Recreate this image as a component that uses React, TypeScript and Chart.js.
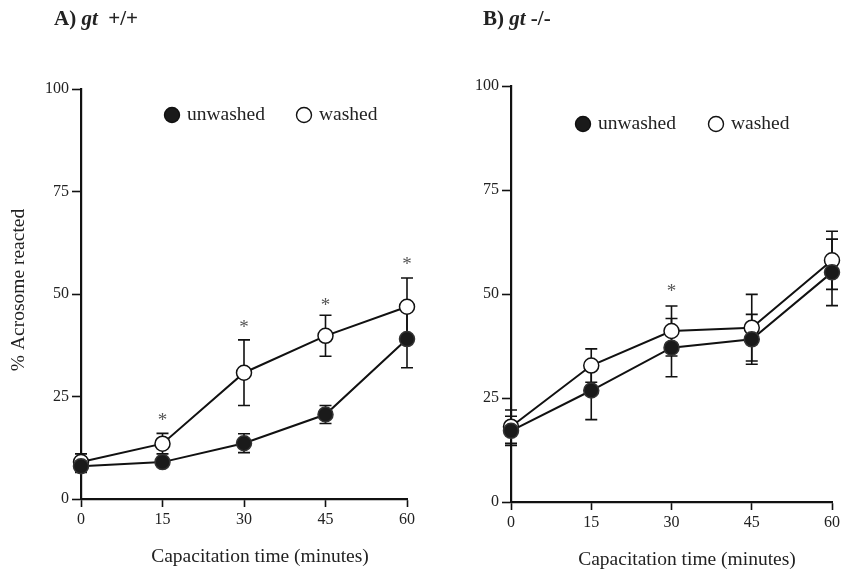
import React, { useEffect, useRef } from "react";
import { Chart, registerables } from "chart.js";

Chart.register(...registerables);

// ---------- DATA ----------
const timePoints = [0, 15, 30, 45, 60];
const xTicks = [0, 15, 30, 45, 60];
const yTicks = [0, 25, 50, 75, 100];

const seriesNames = ["unwashed", "washed"];

const panelAUnwashed = [8, 9, 13.6, 20.6, 39];
const panelAUnwashedErr = [1.5, 1, 2.3, 2.2, 7];
const panelAWashed = [9, 13.5, 30.8, 39.8, 46.9];
const panelAWashedErr = [2, 2.5, 8, 5, 7];
const panelAStarTimes = [15, 30, 45, 60];
const panelAStarLevels = [20.3, 43, 48.4, 58.3];

const panelBUnwashed = [17.1, 26.8, 37.1, 39.1, 55.2];
const panelBUnwashedErr = [3.5, 7, 7, 6, 8];
const panelBWashed = [18.1, 32.8, 41.1, 41.9, 58.1];
const panelBWashedErr = [4, 4, 6, 8, 7];
const panelBStarTimes = [30];
const panelBStarLevels = [51.8];

const xAxisTitle = "Capacitation time (minutes)";
const yAxisTitle = "% Acrosome reacted";

const FONT = "'Liberation Serif', 'Times New Roman', serif";

type PanelCfg = {
  unwashed: number[];
  unwashedErr: number[];
  washed: number[];
  washedErr: number[];
  starTimes: number[];
  starLevels: number[];
  area: { left: number; top: number; right: number; bottom: number };
  legend: { dx: number; dy: number; gap: number };
  xTitle: { x: number; y: number };
  showYTitle: boolean;
};

const W = 843;
const H = 571;
const Y_W = 40;
const X_H = 40;

function makeChart(canvas: HTMLCanvasElement, cfg: PanelCfg) {
  const errPlugin = {
    id: "errbars",
    beforeDatasetsDraw(chart: any) {
      const ctx = chart.ctx;
      const xs = chart.scales.x;
      const ys = chart.scales.y;
      const errs = [cfg.unwashedErr, cfg.washedErr];
      const vals = [cfg.unwashed, cfg.washed];
      ctx.save();
      ctx.strokeStyle = "#111";
      ctx.lineWidth = 1.6;
      for (let d = 0; d < 2; d++) {
        for (let i = 0; i < timePoints.length; i++) {
          const x = xs.getPixelForValue(timePoints[i]);
          const yT = ys.getPixelForValue(vals[d][i] + errs[d][i]);
          const yB = ys.getPixelForValue(vals[d][i] - errs[d][i]);
          ctx.beginPath();
          ctx.moveTo(x, yT);
          ctx.lineTo(x, yB);
          ctx.moveTo(x - 6, yT);
          ctx.lineTo(x + 6, yT);
          ctx.moveTo(x - 6, yB);
          ctx.lineTo(x + 6, yB);
          ctx.stroke();
        }
      }
      ctx.restore();
    },
    afterDraw(chart: any) {
      const ctx = chart.ctx;
      const xs = chart.scales.x;
      const ys = chart.scales.y;
      const ca = chart.chartArea;
      ctx.save();
      // asterisks
      ctx.fillStyle = "#555";
      ctx.font = `19px ${FONT}`;
      ctx.textAlign = "center";
      ctx.textBaseline = "alphabetic";
      for (let i = 0; i < cfg.starTimes.length; i++) {
        const x = xs.getPixelForValue(cfg.starTimes[i]);
        const y = ys.getPixelForValue(cfg.starLevels[i]);
        ctx.fillText("*", x, y + 10);
      }
      // legend
      const lx = ca.left + cfg.legend.dx;
      const ly = ca.top + cfg.legend.dy;
      ctx.font = `19.5px ${FONT}`;
      ctx.textAlign = "left";
      ctx.textBaseline = "middle";
      ctx.lineWidth = 1.4;
      ctx.strokeStyle = "#111";
      ctx.beginPath();
      ctx.arc(lx, ly, 7.5, 0, Math.PI * 2);
      ctx.fillStyle = "#1a1a1a";
      ctx.fill();
      ctx.stroke();
      ctx.fillStyle = "#222";
      ctx.fillText(seriesNames[0], lx + 15, ly);
      const lx2 = lx + cfg.legend.gap;
      ctx.beginPath();
      ctx.arc(lx2, ly, 7.5, 0, Math.PI * 2);
      ctx.fillStyle = "#fff";
      ctx.fill();
      ctx.stroke();
      ctx.fillStyle = "#222";
      ctx.fillText(seriesNames[1], lx2 + 15, ly);
      // x title
      ctx.textAlign = "center";
      ctx.font = `19.5px ${FONT}`;
      ctx.fillText(xAxisTitle, cfg.xTitle.x, cfg.xTitle.y);
      // y title
      if (cfg.showYTitle) {
        ctx.translate(19, (ca.top + ca.bottom) / 2 - 4);
        ctx.rotate(-Math.PI / 2);
        ctx.fillText(yAxisTitle, 0, 0);
      }
      ctx.restore();
    },
  };

  const a = cfg.area;
  return new Chart(canvas, {
    type: "line",
    data: {
      labels: timePoints,
      datasets: [
        {
          label: seriesNames[0],
          data: timePoints.map((t, i) => ({ x: t, y: cfg.unwashed[i] })),
          borderColor: "#111",
          borderWidth: 2,
          backgroundColor: "#1a1a1a",
          pointBackgroundColor: "#1a1a1a",
          pointBorderColor: "#333",
          pointBorderWidth: 1.5,
          pointRadius: 7.5,
          tension: 0,
          clip: false,
        },
        {
          label: seriesNames[1],
          data: timePoints.map((t, i) => ({ x: t, y: cfg.washed[i] })),
          borderColor: "#111",
          borderWidth: 2,
          backgroundColor: "#fff",
          pointBackgroundColor: "#fff",
          pointBorderColor: "#111",
          pointBorderWidth: 1.5,
          pointRadius: 7.5,
          tension: 0,
          clip: false,
        },
      ],
    },
    options: {
      animation: false,
      responsive: false,
      maintainAspectRatio: false,
      layout: {
        padding: {
          left: a.left - Y_W,
          top: a.top,
          right: W - a.right,
          bottom: H - a.bottom - X_H,
        },
      },
      plugins: {
        legend: { display: false },
        tooltip: { enabled: false },
        title: { display: false },
      },
      scales: {
        x: {
          type: "linear",
          min: 0,
          max: 60,
          afterFit(scale: any) {
            scale.height = X_H;
          },
          afterBuildTicks(scale: any) {
            scale.ticks = xTicks.map((v) => ({ value: v }));
          },
          grid: {
            drawOnChartArea: false,
            drawTicks: true,
            tickLength: 8,
            tickWidth: 1.6,
            tickColor: "#111",
          },
          border: { display: true, color: "#111", width: 2.2 },
          ticks: {
            font: { family: FONT, size: 16 },
            color: "#222",
            padding: 3,
            maxRotation: 0,
          },
        },
        y: {
          type: "linear",
          min: 0,
          max: 100,
          afterFit(scale: any) {
            scale.width = Y_W;
          },
          afterBuildTicks(scale: any) {
            scale.ticks = yTicks.map((v) => ({ value: v }));
          },
          grid: {
            drawOnChartArea: false,
            drawTicks: true,
            tickLength: 9,
            tickWidth: 1.6,
            tickColor: "#111",
          },
          border: { display: true, color: "#111", width: 2.2 },
          ticks: {
            font: { family: FONT, size: 16 },
            color: "#222",
            padding: 3,
          },
        },
      },
    },
    plugins: [errPlugin],
  } as any);
}

const panelA: PanelCfg = {
  unwashed: panelAUnwashed,
  unwashedErr: panelAUnwashedErr,
  washed: panelAWashed,
  washedErr: panelAWashedErr,
  starTimes: panelAStarTimes,
  starLevels: panelAStarLevels,
  area: { left: 81, top: 89, right: 407, bottom: 499 },
  legend: { dx: 91, dy: 26, gap: 132 },
  xTitle: { x: 260, y: 557 },
  showYTitle: true,
};

const panelB: PanelCfg = {
  unwashed: panelBUnwashed,
  unwashedErr: panelBUnwashedErr,
  washed: panelBWashed,
  washedErr: panelBWashedErr,
  starTimes: panelBStarTimes,
  starLevels: panelBStarLevels,
  area: { left: 511, top: 86, right: 834, bottom: 502 },
  legend: { dx: 72, dy: 38, gap: 133 },
  xTitle: { x: 687, y: 560 },
  showYTitle: false,
};

function Panel({ cfg }: { cfg: PanelCfg }) {
  const ref = useRef<HTMLCanvasElement | null>(null);
  useEffect(() => {
    if (!ref.current) return;
    const ch = makeChart(ref.current, cfg);
    return () => ch.destroy();
  }, [cfg]);
  return (
    <canvas
      ref={ref}
      width={W}
      height={H}
      style={{ position: "absolute", left: 0, top: 0, width: W, height: H }}
    />
  );
}

const headStyle: React.CSSProperties = {
  position: "absolute",
  top: 5,
  fontFamily: FONT,
  fontWeight: "bold",
  fontSize: 21,
  lineHeight: "26px",
  color: "#222",
  whiteSpace: "pre",
};

export default function App() {
  return (
    <div
      style={{
        position: "fixed",
        left: 0,
        top: 0,
        width: W,
        height: H,
        background: "#fff",
        overflow: "hidden",
      }}
    >
      <Panel cfg={panelA} />
      <Panel cfg={panelB} />
      <div style={{ ...headStyle, left: 54 }}>
        A) <i>gt</i>  +/+
      </div>
      <div style={{ ...headStyle, left: 483 }}>
        B) <i>gt</i> -/-
      </div>
    </div>
  );
}
